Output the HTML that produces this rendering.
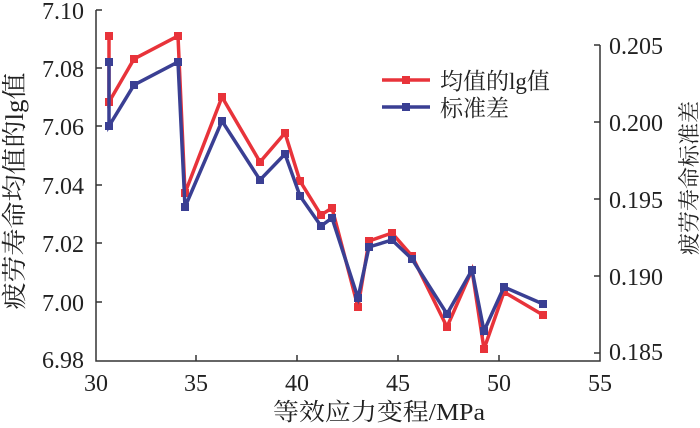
<!DOCTYPE html>
<html><head><meta charset="utf-8"><style>body{margin:0;background:#fff}svg{display:block}text{font-family:"Liberation Serif","Noto Serif CJK SC",serif;fill:#222}</style></head><body>
<svg width="700" height="428" viewBox="0 0 700 428">
<g stroke="#333" stroke-width="1.5" fill="none">
<path d="M96,10 V361 H600 V45"/>
<path d="M96,10h6M96,68h6M96,126h6M96,185h6M96,243h6M96,302h6"/>
<path d="M600,45h-6M600,122h-6M600,199h-6M600,276h-6M600,353h-6"/>
<path d="M196,361v-6M297,361v-6M398,361v-6M499,361v-6"/>
</g>
<g font-size="24" text-anchor="end">
<text x="84" y="19">7.10</text><text x="84" y="77">7.08</text><text x="84" y="135">7.06</text><text x="84" y="194">7.04</text><text x="84" y="252">7.02</text><text x="84" y="311">7.00</text><text x="84" y="368">6.98</text>
</g>
<g font-size="24">
<text x="609" y="54">0.205</text><text x="609" y="131">0.200</text><text x="609" y="208">0.195</text><text x="609" y="285">0.190</text><text x="609" y="360">0.185</text>
</g>
<g font-size="24" text-anchor="middle">
<text x="96" y="391">30</text><text x="196" y="391">35</text><text x="297" y="391">40</text><text x="398" y="391">45</text><text x="499" y="391">50</text><text x="600" y="391">55</text>
</g>
<text x="273" y="420" font-size="24" textLength="212" lengthAdjust="spacingAndGlyphs">等效应力变程/MPa</text>
<text transform="translate(23,191) rotate(-90)" font-size="25" text-anchor="middle" textLength="237" lengthAdjust="spacingAndGlyphs">疲劳寿命均值的lg值</text>
<text transform="translate(697,178) rotate(-90)" font-size="22" text-anchor="middle">疲劳寿命标准差</text>
<polyline fill="none" stroke="#e8333a" stroke-width="3.5" points="109,36 109,102 134,59 178,36 185,193 222,97 260,162 285,133 300,181 321,215 332,208 358,307 369,241 392,233 412,256 447,327 472,270 484,349 504,292 543,315"/>
<g fill="#e8333a">
<rect x="105" y="32" width="8" height="8"/><rect x="105" y="98" width="8" height="8"/><rect x="130" y="55" width="8" height="8"/><rect x="174" y="32" width="8" height="8"/><rect x="181" y="189" width="8" height="8"/><rect x="218" y="93" width="8" height="8"/><rect x="256" y="158" width="8" height="8"/><rect x="281" y="129" width="8" height="8"/><rect x="296" y="177" width="8" height="8"/><rect x="317" y="211" width="8" height="8"/><rect x="328" y="204" width="8" height="8"/><rect x="354" y="303" width="8" height="8"/><rect x="365" y="237" width="8" height="8"/><rect x="388" y="229" width="8" height="8"/><rect x="408" y="252" width="8" height="8"/><rect x="443" y="323" width="8" height="8"/><rect x="468" y="266" width="8" height="8"/><rect x="480" y="345" width="8" height="8"/><rect x="500" y="288" width="8" height="8"/><rect x="539" y="311" width="8" height="8"/>
</g>
<polyline fill="none" stroke="#3a3f93" stroke-width="3.5" points="109,62 109,126 134,85 178,62 185,207 222,121 260,180 285,154 300,196 321,226 332,218 358,298 369,247 392,240 412,259 447,314 472,270 484,331 504,287 543,304"/>
<g fill="#3a3f93">
<rect x="105" y="58" width="8" height="8"/><rect x="105" y="122" width="8" height="8"/><rect x="130" y="81" width="8" height="8"/><rect x="174" y="58" width="8" height="8"/><rect x="181" y="203" width="8" height="8"/><rect x="218" y="117" width="8" height="8"/><rect x="256" y="176" width="8" height="8"/><rect x="281" y="150" width="8" height="8"/><rect x="296" y="192" width="8" height="8"/><rect x="317" y="222" width="8" height="8"/><rect x="328" y="214" width="8" height="8"/><rect x="354" y="294" width="8" height="8"/><rect x="365" y="243" width="8" height="8"/><rect x="388" y="236" width="8" height="8"/><rect x="408" y="255" width="8" height="8"/><rect x="443" y="310" width="8" height="8"/><rect x="468" y="266" width="8" height="8"/><rect x="480" y="327" width="8" height="8"/><rect x="500" y="283" width="8" height="8"/><rect x="539" y="300" width="8" height="8"/>
</g>
<line x1="382" y1="80" x2="430" y2="80" stroke="#e8333a" stroke-width="3.5"/><rect x="402" y="76" width="8" height="8" fill="#e8333a"/>
<line x1="382" y1="107" x2="430" y2="107" stroke="#3a3f93" stroke-width="3.5"/><rect x="402" y="103" width="8" height="8" fill="#3a3f93"/>
<text x="440" y="89" font-size="23">均值的lg值</text>
<text x="440" y="116" font-size="23">标准差</text>
</svg>
</body></html>
